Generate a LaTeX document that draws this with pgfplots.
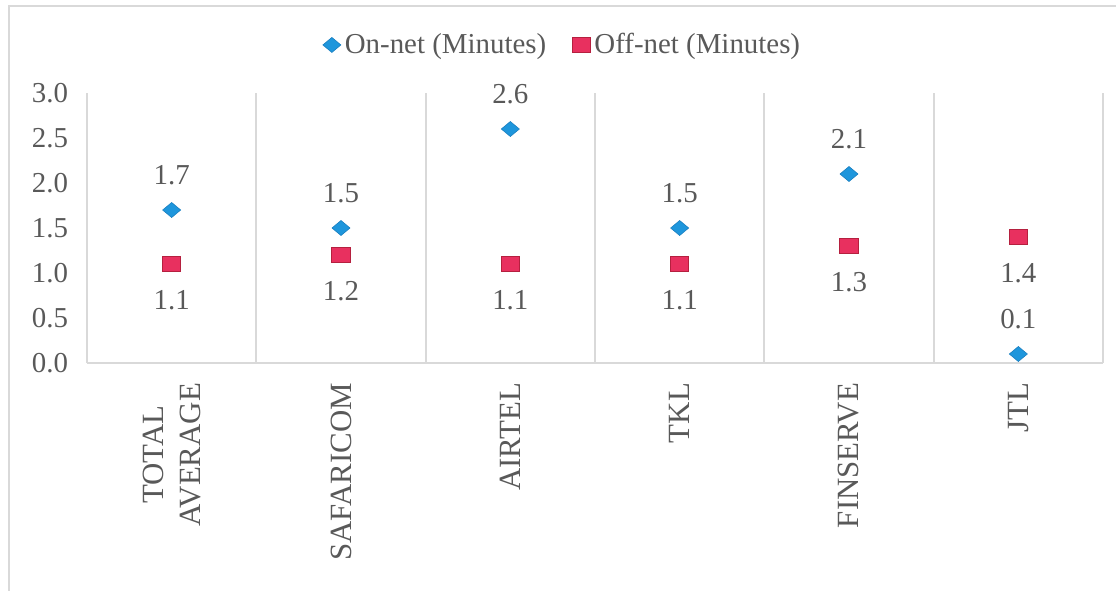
\documentclass[border=0pt]{standalone}
\usepackage{fontspec}
\setmainfont{Liberation Serif}
\usepackage{pgfplots}
\pgfplotsset{compat=1.18}
\definecolor{txt}{HTML}{595959}
\definecolor{grd}{HTML}{D9D9D9}
\definecolor{onnet}{HTML}{1E96DC}
\definecolor{onedge}{HTML}{1A7FC0}
\definecolor{offnet}{HTML}{E8305F}
\definecolor{offedge}{HTML}{B5203F}
\begin{document}
\begin{tikzpicture}
\useasboundingbox (-43.5bp,-114bp) rectangle (514.5bp,181.5bp);
\draw[grd, line width=1.2bp] (-39bp,-120bp) -- (-39bp,178.5bp) -- (520bp,178.5bp);
\begin{axis}[
  at={(0,0)}, anchor=south west,
  scale only axis, width=508bp, height=135bp,
  xmin=-0.5, xmax=5.5, ymin=0, ymax=3,
  clip=false,
  axis line style={draw=none},
  major tick length=0pt, minor tick length=0pt,
  xtick={0,1,2,3,4,5},
  xticklabels={{TOTAL\\AVERAGE},SAFARICOM,AIRTEL,TKL,FINSERVE,JTL},
  minor xtick={-0.5,0.5,1.5,2.5,3.5,4.5,5.5},
  xminorgrids=true,
  minor grid style={grd, line width=1bp},
  ytick={0,0.5,1,1.5,2,2.5,3},
  yticklabel={\pgfmathprintnumber[fixed,fixed zerofill,precision=1,assume math mode=true]{\tick}},
  yticklabel style={font=\fontsize{14.5}{16}\selectfont, color=txt},
  yticklabel shift=6bp,
  xticklabel style={rotate=90, anchor=east, align=center, font=\fontsize{15.5}{18.5}\selectfont, color=txt},
  xticklabel shift=6.5bp,
  legend style={at={(0.469,1.178)}, anchor=center, draw=none, fill=none,
    font=\fontsize{14.5}{16}\selectfont, text=txt, legend columns=2,
    /tikz/every even column/.append style={column sep=11bp}},
  legend image code/.code={\draw[#1] plot coordinates {(0cm,0cm)};},
  nodes near coords={\pgfmathprintnumber[fixed,fixed zerofill,precision=1,assume math mode=true]{\pgfplotspointmeta}},
  nodes near coords style={font=\fontsize{14.5}{16}\selectfont, color=txt},
]
\draw[grd, line width=1bp] (rel axis cs:0,0) -- (rel axis cs:1,0);
\addplot[only marks, mark=diamond*, mark size=3.75bp,
  mark options={xscale=1.6, fill=onnet, draw=onedge, line width=0.3bp},
  nodes near coords style={anchor=center, yshift=17.5bp}]
  coordinates {(0,1.7) (1,1.5) (2,2.6) (3,1.5) (4,2.1) (5,0.1)};
\addlegendentry{On-net (Minutes)}
\addplot[only marks, mark=square*, mark size=3.8bp,
  mark options={xscale=1.2, fill=offnet, draw=offedge, line width=0.4bp},
  nodes near coords style={anchor=center, yshift=-18bp}]
  coordinates {(0,1.1) (1,1.2) (2,1.1) (3,1.1) (4,1.3) (5,1.4)};
\addlegendentry{Off-net (Minutes)}
\end{axis}
\end{tikzpicture}
\end{document}
